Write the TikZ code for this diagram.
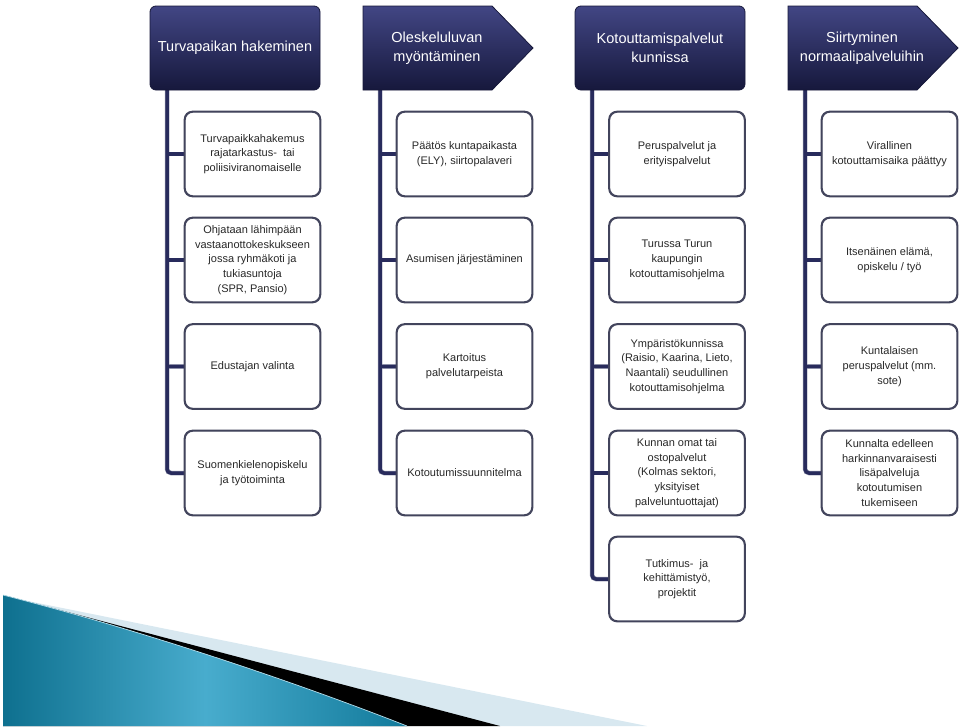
\documentclass[tikz,border=0pt]{standalone}
\usepackage{fontspec}
\setmainfont{Liberation Sans}
\definecolor{hdrtop}{RGB}{66,70,132}
\definecolor{hdrbot}{RGB}{22,24,60}
\definecolor{hdredge}{RGB}{22,24,58}
\definecolor{boxedge}{RGB}{66,68,92}
\definecolor{boxtext}{RGB}{40,40,40}
\definecolor{spinedark}{RGB}{40,43,92}
\definecolor{spinelight}{RGB}{214,217,234}
\definecolor{spinegray}{RGB}{140,143,168}
\definecolor{decolight}{RGB}{216,232,240}
\definecolor{tealdark}{RGB}{14,112,143}
\definecolor{tealmid}{RGB}{72,172,205}
\definecolor{tealright}{RGB}{18,122,155}
\begin{document}
\begin{tikzpicture}[x=1pt,y=-1pt,
  hdr/.style={top color=hdrtop,bottom color=hdrbot,draw=hdredge,line width=0.8pt},
  hdrtext/.style={text=white,font=\fontsize{14.5}{19}\selectfont,align=center,inner sep=0pt},
  box/.style={draw=boxedge,line width=1.3pt,fill=white,rounded corners=8pt,minimum width=135pt,minimum height=84pt,inner sep=0pt,font=\fontsize{11}{14.8}\selectfont,text=boxtext,align=center},
  spg/.style={draw=spinegray,line width=4.5pt,xshift=-2pt,yshift=-2pt,rounded corners=4pt},
  spl/.style={draw=spinelight,line width=2.5pt,xshift=-2pt,yshift=-2pt,rounded corners=4pt},
  spd/.style={draw=spinedark,line width=3.5pt,rounded corners=4pt}
]
\useasboundingbox (0,0) rectangle (960,726);

% bottom-left decoration
\fill[decolight] (3,596) -- (647,726) -- (3,726) -- cycle;
\fill[black] (3,595) -- (500,726) -- (3,726) -- cycle;
\shade[left color=tealdark,right color=tealright,middle color=tealmid] (3,595) .. controls (140,630) and (290,680) .. (407,726) -- (3,726) -- cycle;
\draw[white!60!tealmid,line width=0.7pt] (3,595) .. controls (140,630) and (290,680) .. (407,726);

% boxes
\node[box] (b11) at (252.5,154) {Turvapaikkahakemus\\rajatarkastus-\ \ tai\\poliisiviranomaiselle};
\node[box] (b12) at (252.5,260) {Ohjataan lähimpään\\vastaanottokeskukseen\\jossa ryhmäkoti ja\\tukiasuntoja\\(SPR, Pansio)};
\node[box] (b13) at (252.5,366.5) {Edustajan valinta};
\node[box] (b14) at (252.5,473) {Suomenkielenopiskelu\\ja työtoiminta};

\node[box] (b21) at (464.5,154) {Päätös kuntapaikasta\\(ELY), siirtopalaveri};
\node[box] (b22) at (464.5,260) {Asumisen järjestäminen};
\node[box] (b23) at (464.5,366.5) {Kartoitus\\palvelutarpeista};
\node[box] (b24) at (464.5,473) {Kotoutumissuunnitelma};

\node[box] (b31) at (677,154) {Peruspalvelut ja\\erityispalvelut};
\node[box] (b32) at (677,260) {Turussa Turun\\kaupungin\\kotouttamisohjelma};
\node[box] (b33) at (677,366.5) {Ympäristökunnissa\\(Raisio, Kaarina, Lieto,\\Naantali) seudullinen\\kotouttamisohjelma};
\node[box] (b34) at (677,473) {Kunnan omat tai\\ostopalvelut\\(Kolmas sektori,\\yksityiset\\palveluntuottajat)};
\node[box] (b35) at (677,579) {Tutkimus-\ \ ja\\kehittämistyö,\\projektit};

\node[box] (b41) at (889.5,154) {Virallinen\\kotouttamisaika päättyy};
\node[box] (b42) at (889.5,260) {Itsenäinen elämä,\\opiskelu / työ};
\node[box] (b43) at (889.5,366.5) {Kuntalaisen\\peruspalvelut (mm.\\sote)};
\node[box] (b44) at (889.5,473) {Kunnalta edelleen\\harkinnanvaraisesti\\lisäpalveluja\\kotoutumisen\\tukemiseen};

% spine anchor coordinates
\coordinate (s1) at (167,88);
\coordinate (s2) at (380,88);
\coordinate (s3) at (592,88);
\coordinate (s4) at (805,88);

% spines: shadow layers then dark line
\foreach \st in {spg,spl,spd}{
  \draw[\st] (s1) |- (b14.west);
  \draw[\st] (s1 |- b11.west) -- (b11.west);
  \draw[\st] (s1 |- b12.west) -- (b12.west);
  \draw[\st] (s1 |- b13.west) -- (b13.west);
  \draw[\st] (s2) |- (b24.west);
  \draw[\st] (s2 |- b21.west) -- (b21.west);
  \draw[\st] (s2 |- b22.west) -- (b22.west);
  \draw[\st] (s2 |- b23.west) -- (b23.west);
  \draw[\st] (s3) |- (b35.west);
  \draw[\st] (s3 |- b31.west) -- (b31.west);
  \draw[\st] (s3 |- b32.west) -- (b32.west);
  \draw[\st] (s3 |- b33.west) -- (b33.west);
  \draw[\st] (s3 |- b34.west) -- (b34.west);
  \draw[\st] (s4) |- (b44.west);
  \draw[\st] (s4 |- b41.west) -- (b41.west);
  \draw[\st] (s4 |- b42.west) -- (b42.west);
  \draw[\st] (s4 |- b43.west) -- (b43.west);
}
% redraw box borders over connector ends
\foreach \b in {b11,b12,b13,b14,b21,b22,b23,b24,b31,b32,b33,b34,b35,b41,b42,b43,b44}{
  \draw[draw=boxedge,line width=1.3pt,rounded corners=8pt] (\b.north west) rectangle (\b.south east);
}

% headers
\path[hdr,rounded corners=6pt] (150,6) rectangle (320,90);
\node[hdrtext] (h1) at (235,48) {Turvapaikan hakeminen};
\path[hdr] (363,6) -- (492,6) -- (533,48) -- (492,90) -- (363,90) -- cycle;
\node[hdrtext] (h2) at (437,48) {Oleskeluluvan\\myöntäminen};
\path[hdr,rounded corners=6pt] (575,6) rectangle (745,90);
\node[hdrtext] (h3) at (660,48) {Kotouttamispalvelut\\kunnissa};
\path[hdr] (788,6) -- (917,6) -- (958,48) -- (917,90) -- (788,90) -- cycle;
\node[hdrtext] (h4) at (862,48) {Siirtyminen\\normaalipalveluihin};
\end{tikzpicture}
\end{document}
